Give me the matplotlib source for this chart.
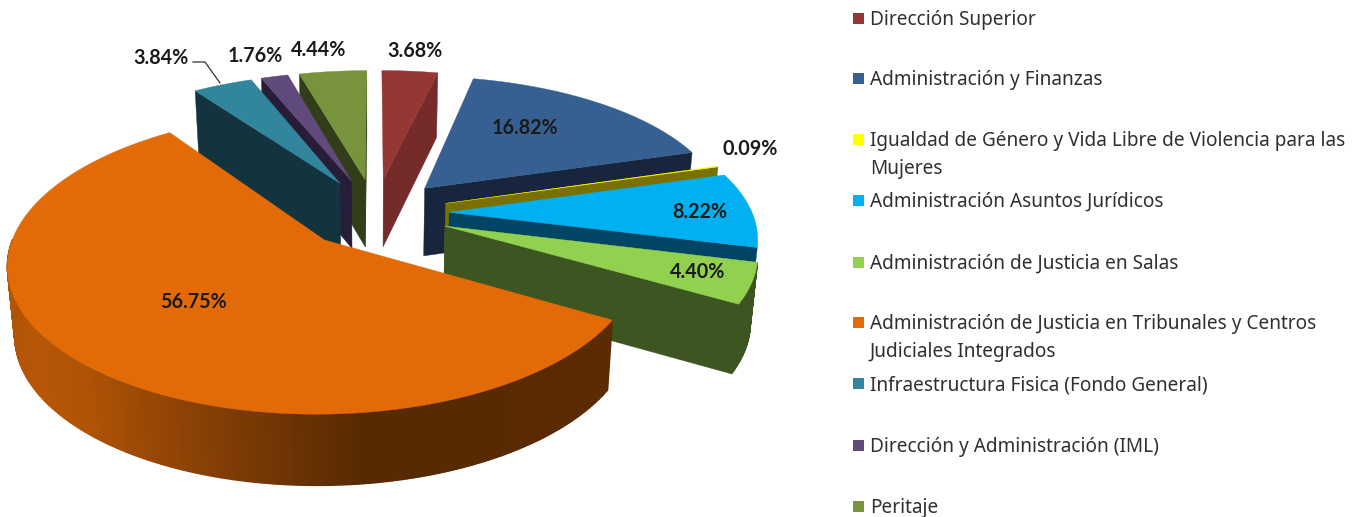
import numpy as np
import matplotlib
matplotlib.use('Agg')
import matplotlib.pyplot as plt
from matplotlib.colors import to_rgb
from matplotlib.patches import Polygon

plt.rcParams['font.family'] = ['Noto Sans', 'DejaVu Sans']

# ─── Data ─────────────────────────────────────────────────────────────────────

categories = [
    'Dirección Superior',
    'Administración y Finanzas',
    'Igualdad de Género y Vida Libre de Violencia para las\nMujeres',
    'Administración Asuntos Jurídicos',
    'Administración de Justicia en Salas',
    'Administración de Justicia en Tribunales y Centros\nJudiciales Integrados',
    'Infraestructura Fisica (Fondo General)',
    'Dirección y Administración (IML)',
    'Peritaje',
]
values = [3.68, 16.82, 0.09, 8.22, 4.40, 56.75, 3.84, 1.76, 4.44]

top_colors = ['#953735', '#376092', '#FFFF00', '#00B0F0', '#92D050',
              '#E26B08', '#31859C', '#604A7B', '#77933C']
wall_colors = ['#762B2B', '#17263C', '#7A7000', '#004563', '#3D5521',
               '#5C2A00', '#13343F', '#281D38', '#323D1A']

label_xy = [(415, 50), (525, 127), (750, 148), (700, 211), (698, 271),
            (194, 301), (161, 57), (255, 55), (319, 49)]
legend_y = [18, 78, 139, 200, 262, 322, 383, 445, 506]

# ─── Pie geometry (pixels) ────────────────────────────────────────────────────

CX, CY = 375, 213
RX, RY = 303, 143
PERSP = 0.16
DEPTH = 68
EXPLODE = 0.245
TAPER = 0.02  # the bottom rim is a little narrower than the top one


def project(u, v, z=0.0):
    s = 1 + PERSP * v
    x = RX * u * s * (1 - TAPER * z)
    return CX + x, CY + RY * v * s + DEPTH * (1 + 0.04 * v) * z


def ring(ox, oy, a, z=0.0):
    return project(ox + np.sin(a), oy - np.cos(a), z)


def orange_shade(u):
    # side of the big slice: lit from the left, nearly brown on the right
    stops_u = [-1.0, -0.85, -0.68, -0.47, -0.2, 0.12, 0.5, 1.0]
    stops_f = [0.78, 0.81, 0.78, 0.67, 0.54, 0.39, 0.39, 0.41]
    return float(np.interp(u, stops_u, stops_f))


def draw_slice(ax, a0, a1, top, wall, shaded, outer=True):
    mid = (a0 + a1) / 2
    ox, oy = EXPLODE * np.sin(mid), -EXPLODE * np.cos(mid)
    apex = project(ox, oy)
    apex_low = project(ox, oy, 1)
    angles = np.linspace(a0, a1, max(3, int(np.degrees(a1 - a0) * 2)))

    # radial walls
    for a, show in ((a0, np.sin(a0) < 0), (a1, np.sin(a1) > 0)):
        if show:
            ax.add_patch(Polygon([apex, ring(ox, oy, a), ring(ox, oy, a, 1), apex_low],
                                 fc=wall, ec=wall, lw=0.3))
    # outer wall, strip by strip
    for b0, b1 in zip(angles[:-1], angles[1:]):
        if not outer or -np.cos((b0 + b1) / 2) <= 0:
            continue
        if shaded:
            f = orange_shade(np.sin((b0 + b1) / 2))
            col = tuple(c * f for c in to_rgb(top))
        else:
            col = wall
        ax.add_patch(Polygon([ring(ox, oy, b0), ring(ox, oy, b1),
                              ring(ox, oy, b1, 1), ring(ox, oy, b0, 1)],
                             fc=col, ec=col, lw=1.0))
    # top face
    pts = [apex] + [ring(ox, oy, a) for a in angles]
    ax.add_patch(Polygon(pts, fc=top, ec=top, lw=0.3))


fig = plt.figure(figsize=(13.63, 5.17), dpi=100)
ax = fig.add_axes([0, 0, 1, 1])
ax.set_xlim(0, 1363); ax.set_ylim(517, 0); ax.axis('off')

# slice angles, clockwise from the top
edges = np.radians(np.cumsum([0] + values) / sum(values) * 360)
slices = list(range(len(values)))
slices.sort(key=lambda i: -np.cos((edges[i] + edges[i + 1]) / 2))
for i in slices:
    draw_slice(ax, edges[i], edges[i + 1], top_colors[i], wall_colors[i],
               i == 5, outer=i != 3)

# data labels
for v, (x, y) in zip(values, label_xy):
    ax.text(x, y + 1, f'{v:.2f}%', fontsize=14.2, fontweight='bold', color='#1a1a1a',
            family=['Lato', 'DejaVu Sans'], ha='center', va='center')
ax.plot([193, 205, 220], [62, 62, 83], color='#333333', lw=0.9)

# legend
for name, col, y in zip(categories, top_colors, legend_y):
    ax.add_patch(Polygon([(853, y - 5.5), (864, y - 5.5), (864, y + 5.5), (853, y + 5.5)],
                         fc=col, ec='none'))
    for j, line in enumerate(name.split('\n')):
        ax.text(870, y + 2 + 28 * j, line, fontsize=13.7, color='#303030',
                ha='left', va='center')

fig.savefig('out.png', dpi=100, facecolor='white')
